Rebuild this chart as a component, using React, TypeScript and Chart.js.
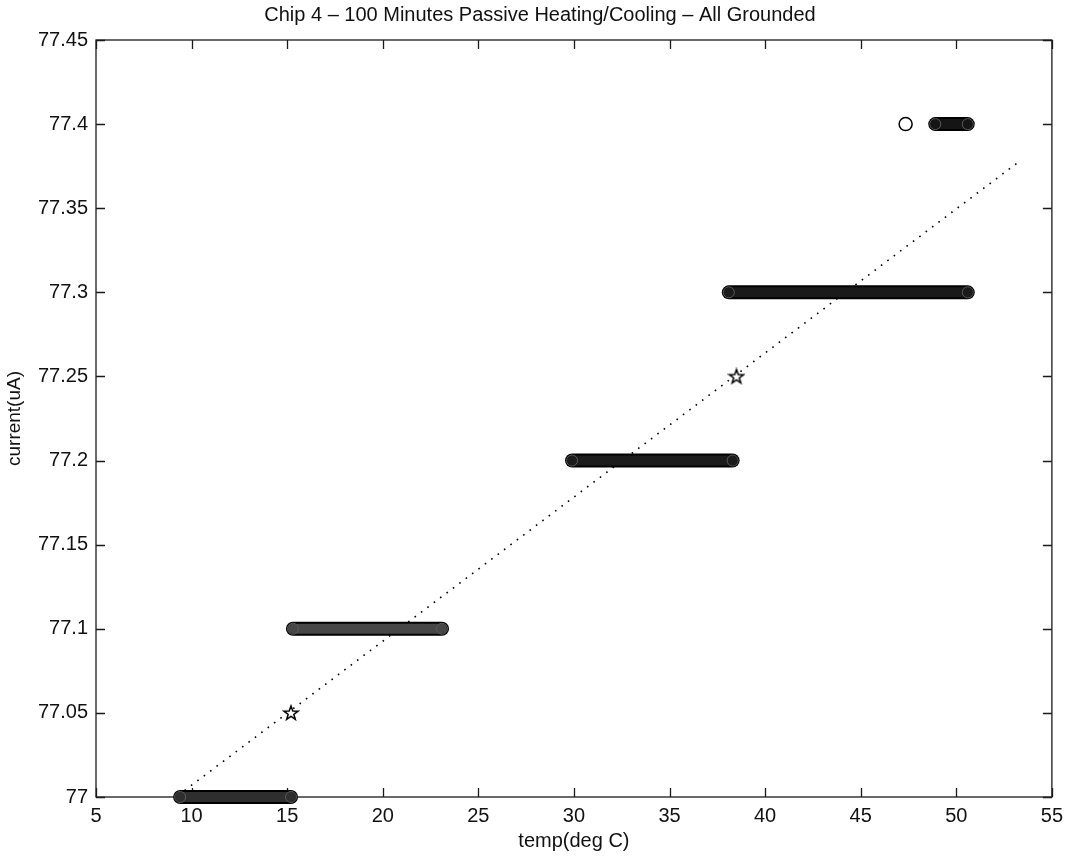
import React, { useEffect, useRef } from "react";
import { Chart, registerables } from "chart.js";

Chart.register(...registerables);

// ---- data ----
const chartTitle = "Chip 4 \u2013 100 Minutes Passive Heating/Cooling \u2013 All Grounded";
const xAxisTitle = "temp(deg C)";
const yAxisTitle = "current(uA)";

const xTickLabels = ["5", "10", "15", "20", "25", "30", "35", "40", "45", "50", "55"];
const yTickLabels = ["77", "77.05", "77.1", "77.15", "77.2", "77.25", "77.3", "77.35", "77.4", "77.45"];

// dense runs of measured samples (circle markers) at each current level
const bandCurrent = [77.0, 77.1, 77.2, 77.3, 77.4];
const bandStartTemp = [9.4, 15.3, 29.9, 38.1, 48.9];
const bandEndTemp = [15.2, 23.1, 38.3, 50.6, 50.6];

// isolated sample
const loneTemp = [47.35];
const loneCurrent = [77.4];

// star markers
const starTemp = [15.2, 38.5];
const starCurrent = [77.05, 77.25];

// dotted fit line
const fitTemp = [9.3, 53.2];
const fitCurrent = [77.001, 77.377];

const FONT = "'Liberation Sans', Arial, Helvetica, sans-serif";
const bandShade = ["#2e2e2e", "#474747", "#1c1c1c", "#1a1a1a", "#151515"];

function makeStar(): HTMLCanvasElement {
  const c = document.createElement("canvas");
  c.width = 18;
  c.height = 18;
  const g = c.getContext("2d")!;
  const cx = 9, cy = 9.5, R = 7.4, r = 3.0;
  g.beginPath();
  for (let i = 0; i < 10; i++) {
    const rad = i % 2 === 0 ? R : r;
    const a = -Math.PI / 2 + (i * Math.PI) / 5;
    const px = cx + rad * Math.cos(a);
    const py = cy + rad * Math.sin(a);
    if (i === 0) g.moveTo(px, py);
    else g.lineTo(px, py);
  }
  g.closePath();
  g.fillStyle = "#fff";
  g.fill();
  g.lineWidth = 1.5;
  g.strokeStyle = "#000";
  g.stroke();
  return c;
}

const framePlugin = {
  id: "matlabFrame",
  beforeDatasetsDraw(chart: any) {
    const { ctx, chartArea } = chart;
    const { left, right, top, bottom } = chartArea;
    const xs = chart.scales.x;
    const ys = chart.scales.y;
    const tl = 9;
    ctx.save();
    ctx.strokeStyle = "#1a1a1a";
    ctx.lineWidth = 1.3;
    ctx.strokeRect(left, top, right - left, bottom - top);
    ctx.beginPath();
    xs.ticks.forEach((t: any) => {
      const px = Math.round(xs.getPixelForValue(t.value)) + 0.5;
      ctx.moveTo(px, bottom);
      ctx.lineTo(px, bottom - tl);
      ctx.moveTo(px, top);
      ctx.lineTo(px, top + tl);
    });
    ys.ticks.forEach((t: any) => {
      const py = Math.round(ys.getPixelForValue(t.value)) + 0.5;
      ctx.moveTo(left, py);
      ctx.lineTo(left + tl, py);
      ctx.moveTo(right, py);
      ctx.lineTo(right - tl, py);
    });
    ctx.stroke();
    ctx.restore();
  },
  afterDraw(chart: any) {
    const { ctx } = chart;
    ctx.save();
    ctx.fillStyle = "#111";
    ctx.font = `20px ${FONT}`;
    ctx.textAlign = "center";
    ctx.textBaseline = "middle";
    ctx.fillText(chartTitle, 540, 15);
    ctx.restore();
  },
};

export default function App() {
  const ref = useRef<HTMLCanvasElement | null>(null);

  useEffect(() => {
    document.body.style.margin = "0";
    const canvas = ref.current!;
    const star = makeStar();

    const bandOuter = bandCurrent.map((c, i) => ({
      data: [
        { x: bandStartTemp[i], y: c },
        { x: bandEndTemp[i], y: c },
      ],
      showLine: true,
      borderColor: "#000",
      borderWidth: 14,
      borderCapStyle: "round" as const,
      pointRadius: 0,
      clip: false as any,
    }));
    const bandInner = bandCurrent.map((c, i) => ({
      data: [
        { x: bandStartTemp[i], y: c },
        { x: bandEndTemp[i], y: c },
      ],
      showLine: true,
      borderColor: bandShade[i],
      borderWidth: 10,
      borderCapStyle: "round" as const,
      pointRadius: 5.5,
      pointStyle: "circle" as const,
      pointBorderColor: "#5a5a5a",
      pointBackgroundColor: "rgba(0,0,0,0)",
      pointBorderWidth: 1,
      clip: false as any,
    }));

    const chart = new Chart(canvas, {
      type: "scatter",
      data: {
        datasets: [
          {
            data: starTemp.map((t, i) => ({ x: t, y: starCurrent[i] })),
            pointStyle: star as any,
            pointRadius: 8,
            clip: false as any,
          },
          {
            data: loneTemp.map((t, i) => ({ x: t, y: loneCurrent[i] })),
            pointStyle: "circle",
            pointRadius: 6.5,
            pointBorderColor: "#000",
            pointBackgroundColor: "rgba(0,0,0,0)",
            pointBorderWidth: 1.5,
          },
          ...bandInner,
          ...bandOuter,
          {
            data: fitTemp.map((t, i) => ({ x: t, y: fitCurrent[i] })),
            showLine: true,
            borderColor: "#000",
            borderWidth: 1.6,
            borderDash: [1.6, 6.4],
            pointRadius: 0,
          },
        ] as any,
      },
      options: {
        animation: false,
        responsive: false,
        devicePixelRatio: 1,
        events: [],
        layout: { padding: { left: 0, right: 18, top: 40, bottom: 0 } },
        plugins: {
          legend: { display: false },
          tooltip: { enabled: false },
          title: { display: false },
        },
        scales: {
          x: {
            type: "linear",
            min: 5,
            max: 55,
            afterFit: (s: any) => {
              s.height = 61;
            },
            ticks: {
              stepSize: 5,
              padding: 7,
              color: "#111",
              font: { family: FONT, size: 20 },
              maxRotation: 0,
              callback: (_v: any, i: number) => xTickLabels[i],
            },
            grid: { display: false, drawTicks: false },
            border: { display: false },
            title: {
              display: true,
              text: xAxisTitle,
              color: "#111",
              font: { family: FONT, size: 20 },
              padding: { top: 0, bottom: 5 },
            },
          },
          y: {
            type: "linear",
            min: 77,
            max: 77.45,
            afterFit: (s: any) => {
              s.width = 96;
            },
            ticks: {
              stepSize: 0.05,
              padding: 8,
              color: "#111",
              font: { family: FONT, size: 20 },
              callback: (_v: any, i: number) => yTickLabels[i],
            },
            grid: { display: false, drawTicks: false },
            border: { display: false },
            title: {
              display: true,
              text: yAxisTitle,
              color: "#111",
              font: { family: FONT, size: 19 },
              padding: { top: 3, bottom: 0 },
            },
          },
        },
      },
      plugins: [framePlugin],
    });

    return () => {
      chart.destroy();
    };
  }, []);

  return (
    <canvas
      ref={ref}
      width={1070}
      height={858}
      style={{ display: "block", width: 1070, height: 858 }}
    />
  );
}
